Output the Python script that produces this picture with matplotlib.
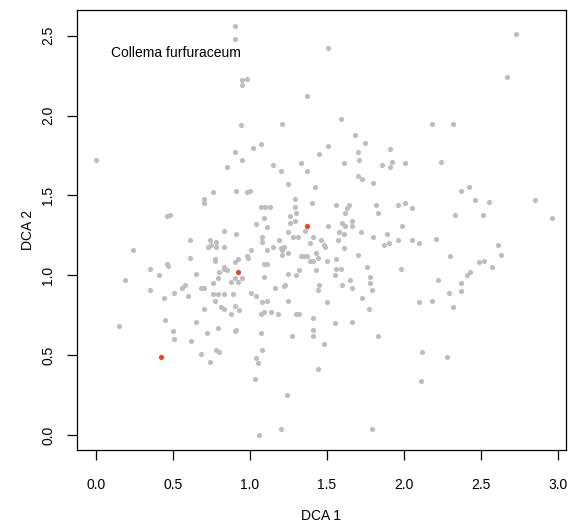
import matplotlib
matplotlib.use("Agg")
import matplotlib.pyplot as plt
import numpy as np

plt.rcParams["font.family"] = ["Liberation Sans", "DejaVu Sans"]
plt.rcParams["font.size"] = 10

species = "Collema furfuraceum"

# site scores (grey)
site_dca1 = [
    0.90, 0.90, 0.90, 0.00,
    1.51, 0.95, 0.98, 0.95, 1.37, 1.59, 0.94, 1.21, 1.68, 1.75, 1.02, 1.07,
    1.51, 1.45, 1.70, 1.91, 0.95,
    2.73, 2.67, 2.18, 2.32,
    0.85, 0.76, 0.91, 0.70, 0.70, 0.46, 0.48, 0.83, 0.91, 0.61, 0.74, 0.78,
    0.73, 0.75, 0.78, 0.83, 0.24, 0.61, 0.77, 0.77, 0.92, 0.90, 0.83, 0.83,
    0.85, 0.35, 0.46, 0.47, 0.41, 0.65, 0.80, 0.79, 0.90, 0.88, 0.92, 0.19,
    0.76, 0.58, 0.56, 0.68, 0.70, 0.35, 0.51, 0.76, 0.79, 0.83, 0.89, 0.60,
    0.44,
    1.15, 1.33, 1.61, 1.71, 1.86, 1.92, 1.20, 1.37, 1.91, 1.70, 1.73, 1.80,
    1.25, 1.42, 0.98, 1.00, 1.29, 1.40, 1.07, 1.10, 1.13, 1.29, 1.56, 1.64,
    1.63, 1.62, 1.82, 1.96, 1.83, 1.30, 1.09, 1.26, 1.26, 1.29, 1.04, 1.11,
    1.36, 1.51, 1.60, 1.62, 1.66, 1.66, 1.25, 1.41, 1.58, 1.61, 1.72, 1.89,
    1.08, 1.28, 1.31, 1.80, 1.19, 1.08, 1.46, 1.57, 1.96, 1.39, 1.48, 1.49,
    1.87, 1.90, 1.11, 1.15, 1.20, 1.22, 1.21, 1.61, 1.01, 1.25, 1.21, 0.98,
    0.99, 1.33, 1.35, 1.37, 1.43, 1.44, 1.70, 1.56, 1.39, 1.41, 1.50, 1.09,
    1.11, 1.43, 1.32, 1.56, 1.59, 1.76, 0.95, 1.09, 1.25, 1.30, 1.55, 1.78,
    1.65, 1.45, 1.60, 1.78, 1.16, 1.22, 1.23, 1.44, 1.66, 1.79, 1.01, 1.04,
    1.73,
    2.01, 2.24, 2.37, 2.42, 2.46, 2.55, 2.85, 2.01, 2.05, 2.33, 2.51, 2.96,
    1.99, 2.05, 2.10, 2.21, 2.30, 2.61, 2.63, 2.49, 2.52, 2.57, 1.98, 2.43,
    2.41, 2.22, 2.37, 2.37, 2.29,
    0.77, 0.90, 0.93, 0.70, 0.81, 0.83, 0.88, 0.15, 0.45, 0.65, 0.50, 0.79,
    0.72, 0.90, 0.91, 0.51, 0.62, 0.78, 0.80, 0.68, 0.74,
    1.08, 1.11, 1.25, 1.50, 1.77, 1.07, 1.09, 1.14, 1.18, 1.30, 1.32, 1.41,
    1.55, 1.66, 1.41, 1.07, 1.27, 1.41, 1.83, 1.48, 1.08, 1.04, 1.05, 1.44,
    1.03, 1.24, 1.20, 1.06, 1.79,
    2.10, 2.18, 2.32, 2.12, 2.28, 2.11,
]
site_dca2 = [
    2.56, 2.48, 1.77, 1.72,
    2.42, 2.22, 2.23, 2.19, 2.12, 1.98, 1.94, 1.95, 1.88, 1.83, 1.80, 1.82,
    1.81, 1.76, 1.77, 1.79, 1.72,
    2.51, 2.24, 1.95, 1.95,
    1.68, 1.52, 1.53, 1.48, 1.45, 1.37, 1.38, 1.28, 1.26, 1.22, 1.22, 1.21,
    1.18, 1.19, 1.18, 1.18, 1.16, 1.11, 1.10, 1.09, 1.10, 1.08, 1.05, 1.04,
    1.03, 1.04, 1.07, 1.06, 1.00, 1.01, 1.02, 0.98, 0.98, 0.96, 0.96, 0.97,
    0.95, 0.94, 0.92, 0.92, 0.92, 0.91, 0.89, 0.88, 0.88, 0.88, 0.88, 0.87,
    0.86,
    1.69, 1.70, 1.70, 1.72, 1.69, 1.71, 1.65, 1.65, 1.68, 1.62, 1.60, 1.58,
    1.57, 1.55, 1.52, 1.53, 1.48, 1.45, 1.43, 1.43, 1.43, 1.43, 1.44, 1.44,
    1.42, 1.39, 1.44, 1.44, 1.39, 1.39, 1.36, 1.37, 1.33, 1.34, 1.32, 1.30,
    1.28, 1.31, 1.33, 1.31, 1.34, 1.31, 1.27, 1.24, 1.27, 1.26, 1.27, 1.26,
    1.24, 1.24, 1.24, 1.24, 1.22, 1.21, 1.22, 1.22, 1.22, 1.20, 1.19, 1.18,
    1.19, 1.20, 1.16, 1.18, 1.17, 1.18, 1.16, 1.17, 1.16, 1.14, 1.13, 1.12,
    1.11, 1.12, 1.12, 1.12, 1.14, 1.11, 1.13, 1.10, 1.09, 1.09, 1.09, 1.07,
    1.07, 1.03, 1.03, 1.04, 1.04, 1.05, 0.98, 0.99, 1.01, 1.00, 1.00, 0.99,
    0.97, 0.94, 0.94, 0.95, 0.92, 0.93, 0.94, 0.91, 0.92, 0.91, 0.89, 0.87,
    0.86,
    1.70, 1.71, 1.53, 1.55, 1.47, 1.46, 1.47, 1.45, 1.42, 1.38, 1.38, 1.36,
    1.31, 1.22, 1.20, 1.23, 1.12, 1.19, 1.13, 1.08, 1.09, 1.05, 1.04, 1.02,
    1.00, 0.97, 0.95, 0.90, 0.89,
    0.84, 0.81, 0.78, 0.79, 0.80, 0.79, 0.76, 0.68, 0.72, 0.71, 0.65, 0.67,
    0.64, 0.65, 0.66, 0.60, 0.59, 0.53, 0.52, 0.51, 0.46,
    0.83, 0.84, 0.84, 0.83, 0.79, 0.76, 0.77, 0.77, 0.76, 0.76, 0.76, 0.73,
    0.70, 0.71, 0.66, 0.64, 0.62, 0.62, 0.62, 0.57, 0.53, 0.48, 0.45, 0.41,
    0.35, 0.25, 0.04, 0.00, 0.04,
    0.83, 0.84, 0.80, 0.52, 0.49, 0.34,
]

# sites where the species occurs (red)
occ_dca1 = [0.92, 1.37, 0.42]
occ_dca2 = [1.02, 1.31, 0.49]

fig = plt.figure(figsize=(5.77, 5.26), dpi=100)
ax = fig.add_axes([0.1334, 0.1445, 0.8475, 0.8365])

ax.scatter(site_dca1, site_dca2, s=14, color="#bebebe", linewidths=0, zorder=2)
ax.scatter(occ_dca1, occ_dca2, s=14, color="#ee4420", linewidths=0, zorder=3)

ax.text(0.095, 2.39, species, ha="left", va="center", fontsize=10)

ax.set_xlim(-0.123, 3.052)
ax.set_ylim(-0.094, 2.661)
ax.set_xticks(np.arange(0, 3.01, 0.5))
ax.set_yticks(np.arange(0, 2.51, 0.5))
ax.set_xticklabels([f"{v:.1f}" for v in np.arange(0, 3.01, 0.5)])
ax.set_yticklabels([f"{v:.1f}" for v in np.arange(0, 2.51, 0.5)],
                   rotation=90, va="center")

ax.tick_params(direction="out", length=7, width=0.9, colors="black")
ax.tick_params(axis="x", pad=13)
ax.tick_params(axis="y", pad=8.5)
for s in ax.spines.values():
    s.set_linewidth(0.9)

ax.set_xlabel("DCA 1")
ax.set_ylabel("DCA 2")
ax.xaxis.set_label_coords(0.5, -0.15)
ax.xaxis.label.set_va("center")
ax.yaxis.set_label_coords(-0.1, 0.5)
ax.yaxis.label.set_va("center")

fig.savefig("out.png", dpi=100)
